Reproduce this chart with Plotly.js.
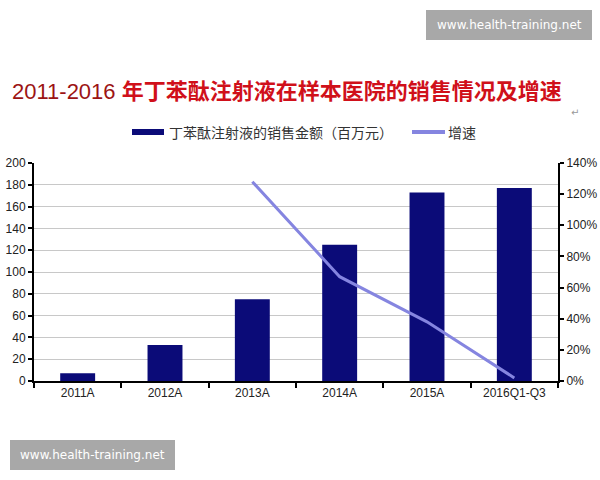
<!DOCTYPE html>
<html>
<head>
<meta charset="utf-8">
<script src="https://cdn.plot.ly/plotly-3.0.1.min.js"></script>
<style>
html,body{margin:0;padding:0;background:#fff;}
#chart{width:600px;height:480px;}
</style>
</head>
<body>
<div id="chart"></div>
<script>
// Data
const categories = ["2011A", "2012A", "2013A", "2014A", "2015A", "2016Q1-Q3"];
const salesValues = [7, 33, 75, 125, 173, 177];           // 百万元
const growthValues = [null, null, 1.28, 0.67, 0.38, 0.02]; // 增速
const leftTicks = [0, 20, 40, 60, 80, 100, 120, 140, 160, 180, 200];
const rightTicks = [0, 0.2, 0.4, 0.6, 0.8, 1.0, 1.2, 1.4];
const salesName = "丁苯酞注射液的销售金额（百万元）";
const growthName = "增速";
const titleYears = "2011-2016 ";
const titleText = "年丁苯酞注射液在样本医院的销售情况及增速";
const watermark = "www.health-training.net";

const barColor = "#0b0b78";
const lineColor = "#8585e0";
const axisFont = {family: "Liberation Sans, Arial, sans-serif", size: 12, color: "#222"};

const traces = [
  {
    type: "bar", x: categories, y: salesValues, name: salesName,
    marker: {color: barColor}, yaxis: "y", hoverinfo: "x+y"
  },
  {
    type: "scatter", mode: "lines", x: categories, y: growthValues, name: growthName,
    line: {color: lineColor, width: 3}, yaxis: "y2", connectgaps: false
  }
];

const layout = {
  width: 600, height: 480,
  paper_bgcolor: "#fff", plot_bgcolor: "#fff",
  margin: {l: 34, r: 42, t: 163, b: 99},
  showlegend: false,
  bargap: 0.6,
  font: axisFont,
  xaxis: {
    type: "category", showline: true, linecolor: "#000", linewidth: 2,
    ticks: "outside", tickson: "boundaries", ticklen: 5, tickwidth: 2, tickcolor: "#000",
    showgrid: false, tickfont: axisFont, zeroline: false
  },
  yaxis: {
    range: [0, 200], tickvals: leftTicks, showline: true, linecolor: "#000", linewidth: 2,
    ticks: "outside", ticklen: 4, tickwidth: 2, tickcolor: "#000",
    showgrid: true, gridcolor: "#c8c8c8", gridwidth: 1, zeroline: false, tickfont: axisFont
  },
  yaxis2: {
    range: [0, 1.4], tickvals: rightTicks, tickformat: ".0%", overlaying: "y", side: "right",
    showline: true, linecolor: "#000", linewidth: 2,
    ticks: "outside", ticklen: 4, tickwidth: 2, tickcolor: "#000",
    showgrid: false, zeroline: false, tickfont: axisFont
  },
  shapes: [
    // watermark boxes
    {type: "rect", xref: "paper", yref: "paper", x0: 392/524, x1: 558/524, y0: 1 + (163-10)/218, y1: 1 + (163-40)/218,
     fillcolor: "#a8a8a8", line: {width: 0}, layer: "above"},
    {type: "rect", xref: "paper", yref: "paper", x0: -24/524, x1: 141/524, y0: -(440-381)/218, y1: -(470-381)/218,
     fillcolor: "#a8a8a8", line: {width: 0}, layer: "above"},
    // legend symbols
    {type: "rect", xref: "paper", yref: "paper", x0: (132-34)/524, x1: (164-34)/524, y0: 1 + (163-129)/218, y1: 1 + (163-135)/218,
     fillcolor: barColor, line: {width: 0}},
    {type: "line", xref: "paper", yref: "paper", x0: (412-34)/524, x1: (445-34)/524, y0: 1 + (163-132)/218, y1: 1 + (163-132)/218,
     line: {color: lineColor, width: 4}}
  ],
  annotations: [
    {xref: "paper", yref: "paper", x: (10-34)/524, y: 1 + (163-89)/218, xanchor: "left", yanchor: "middle", showarrow: false,
     text: '<span style="color:#9c1414;font-family:Liberation Sans, Arial">' + titleYears + '</span><b>' + titleText + '</b>',
     font: {family: "Noto Sans CJK SC, sans-serif", size: 22, color: "#d0101a"}},
    {xref: "paper", yref: "paper", x: (569-34)/524, y: 1 + (163-112)/218, xanchor: "left", yanchor: "middle", showarrow: false,
     text: "↵", font: {family: "DejaVu Sans", size: 10, color: "#999"}},
    {xref: "paper", yref: "paper", x: (167-34)/524, y: 1 + (163-132)/218, xanchor: "left", yanchor: "middle", showarrow: false,
     text: salesName, font: {family: "Noto Sans CJK SC, sans-serif", size: 14, color: "#333"}},
    {xref: "paper", yref: "paper", x: (446-34)/524, y: 1 + (163-132)/218, xanchor: "left", yanchor: "middle", showarrow: false,
     text: growthName, font: {family: "Noto Sans CJK SC, sans-serif", size: 14, color: "#333"}},
    {xref: "paper", yref: "paper", x: (509-34)/524, y: 1 + (163-25)/218, xanchor: "center", yanchor: "middle", showarrow: false,
     text: watermark, font: {family: "DejaVu Sans, sans-serif", size: 12, color: "#fff"}},
    {xref: "paper", yref: "paper", x: (92-34)/524, y: -(455-381)/218, xanchor: "center", yanchor: "middle", showarrow: false,
     text: watermark, font: {family: "DejaVu Sans, sans-serif", size: 12, color: "#fff"}}
  ]
};

Plotly.newPlot("chart", traces, layout, {displayModeBar: false, responsive: false});
</script>
</body>
</html>
